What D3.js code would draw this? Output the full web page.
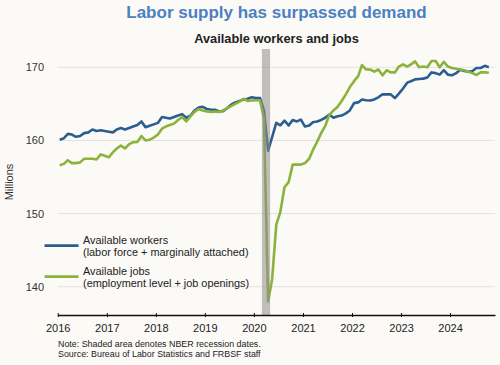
<!DOCTYPE html>
<html>
<head>
<meta charset="utf-8">
<script src="https://cdn.jsdelivr.net/npm/d3@7"></script>
<style>
  html, body { margin: 0; padding: 0; background: #fbfaf7; }
  svg { display: block; font-family: "Liberation Sans", Arial, sans-serif; }
</style>
</head>
<body>
<svg id="chart" width="500" height="365"></svg>
<script>
// ---- Data (monthly, Jan 2016 – Oct 2024, millions) ----
const startMonth = "2016-01";
const workers = [
  160.1,160.3,160.9,160.8,160.5,160.6,161.0,161.1,161.5,161.3,161.4,161.3,
  161.2,161.1,161.5,161.7,161.5,161.7,161.9,162.1,162.6,161.8,162.0,162.2,
  162.4,163.2,163.1,163.0,163.2,163.4,163.6,163.1,163.4,164.1,164.5,164.6,
  164.3,164.2,164.2,164.0,164.0,164.4,164.9,165.2,165.4,165.6,165.7,165.9,
  165.8,165.8,164.1,158.6,160.45,162.4,162.05,162.7,162.05,162.8,162.6,162.85,
  161.9,162.05,162.5,162.6,162.8,163.1,163.55,163.1,163.3,163.4,163.7,164.1,
  165.1,165.2,165.6,165.5,165.45,165.6,165.9,166.3,166.3,166.3,165.8,166.4,
  167.1,167.9,168.1,168.35,168.4,168.45,168.6,169.3,169.2,169.0,169.6,169.0,
  168.9,169.2,169.65,169.5,169.4,169.5,169.9,169.9,170.2,170.0
];
const jobs = [
  156.6,156.8,157.3,156.9,156.9,157.0,157.5,157.5,157.5,157.4,158.1,157.9,
  157.7,158.4,158.9,159.3,158.9,159.5,159.75,159.8,160.6,160.0,160.1,160.4,
  160.8,161.6,161.9,162.1,162.3,162.8,163.2,162.6,163.3,163.9,164.3,164.1,
  163.95,163.9,163.95,163.9,164.1,164.4,164.7,165.0,165.3,165.7,165.4,165.45,
  165.5,165.5,163.0,138.0,141.0,148.5,150.2,153.6,154.3,156.7,156.7,156.7,
  156.9,157.5,158.7,159.8,161.0,162.0,163.5,164.1,164.6,165.4,166.3,167.3,
  168.1,168.8,170.3,169.7,169.7,169.4,169.7,168.9,169.6,169.3,169.3,170.1,
  170.4,170.1,170.4,170.8,170.0,170.1,170.0,170.85,170.85,170.0,170.75,170.1,
  169.9,169.8,169.7,169.6,169.4,169.2,168.95,169.3,169.3,169.25
];
const yTicks = [140, 150, 160, 170];
const xTickYears = [2016, 2017, 2018, 2019, 2020, 2021, 2022, 2023, 2024];
const recession = ["2020-03-01", "2020-05-01"];
const seriesNames = ["Available workers", "Available jobs"];
const seriesSubs = ["(labor force + marginally attached)", "(employment level + job openings)"];

// ---- Setup ----
const svg = d3.select("#chart");
const parseMonth = d3.utcParse("%Y-%m");
const parseDay = d3.utcParse("%Y-%m-%d");
const start = parseMonth(startMonth);
// points placed mid-month
const dates = workers.map((_, i) => d3.utcDay.offset(d3.utcMonth.offset(start, i), 15));

const x = d3.scaleUtc()
  .domain([parseDay("2016-01-01"), parseDay("2024-12-01")])
  .range([57.7, 495]);
const y = d3.scaleLinear().domain([136.14, 172.5]).range([315, 49]);

const blue = "#2b5e8f", green = "#8bb33c";

// Titles
svg.append("text").attr("x", 276.5).attr("y", 17.5).attr("text-anchor", "middle")
  .attr("font-size", 17).attr("font-weight", "bold").attr("fill", "#4b80c2")
  .text("Labor supply has surpassed demand");
svg.append("text").attr("x", 276.5).attr("y", 42.5).attr("text-anchor", "middle")
  .attr("font-size", 12.8).attr("font-weight", "bold").attr("fill", "#222")
  .text("Available workers and jobs");

// Gridlines
svg.append("g").selectAll("line").data(yTicks).join("line")
  .attr("x1", 57.7).attr("x2", 495)
  .attr("y1", d => y(d)).attr("y2", d => y(d))
  .attr("stroke", "#e3e2df").attr("stroke-width", 1);

// Y axis labels
svg.append("g").selectAll("text").data(yTicks).join("text")
  .attr("x", 44).attr("y", d => y(d) + 4).attr("text-anchor", "end")
  .attr("font-size", 11).attr("fill", "#333").text(d => d);
svg.append("text").attr("transform", "translate(13,182) rotate(-90)")
  .attr("text-anchor", "middle").attr("font-size", 11).attr("fill", "#333").text("Millions");

// Lines
const line = d3.line().x((d, i) => x(dates[i])).y(d => y(d));
svg.append("path").datum(workers).attr("d", line).attr("fill", "none")
  .attr("stroke", blue).attr("stroke-width", 2.6).attr("stroke-linejoin", "round");
svg.append("path").datum(jobs).attr("d", line).attr("fill", "none")
  .attr("stroke", green).attr("stroke-width", 2.6).attr("stroke-linejoin", "round");

// Recession shade (drawn over the lines, semi-transparent)
svg.append("rect")
  .attr("x", x(parseDay(recession[0])))
  .attr("width", x(parseDay(recession[1])) - x(parseDay(recession[0])))
  .attr("y", 49).attr("height", 315 - 49)
  .attr("fill", "#8f8c88").attr("opacity", 0.55);

// X axis
const xAxis = d3.axisBottom(x)
  .tickValues(xTickYears.map(yr => new Date(Date.UTC(yr, 0, 1))))
  .tickFormat(d3.utcFormat("%Y"))
  .tickSize(4).tickSizeOuter(0);
const gx = svg.append("g").attr("transform", "translate(0,315)").call(xAxis);
gx.select(".domain").attr("stroke", "#111").attr("stroke-width", 1.6);
gx.selectAll(".tick line").attr("stroke", "#111").attr("y1", -2).attr("y2", 2);
gx.selectAll(".tick text").attr("font-size", 11).attr("fill", "#222")
  .attr("font-family", "Liberation Sans, Arial, sans-serif").attr("dy", 0).attr("y", 17);

// Legend
const legend = svg.append("g");
const legColors = [blue, green];
const legY = [245.7, 276.7];
seriesNames.forEach((name, i) => {
  legend.append("line").attr("x1", 44.5).attr("x2", 78.5)
    .attr("y1", legY[i]).attr("y2", legY[i])
    .attr("stroke", legColors[i]).attr("stroke-width", 2.8);
  legend.append("text").attr("x", 83).attr("y", legY[i] - 1.6)
    .attr("font-size", 10.9).attr("fill", "#222").text(name);
  legend.append("text").attr("x", 83).attr("y", legY[i] + 10.2)
    .attr("font-size", 10.9).attr("fill", "#222").text(seriesSubs[i]);
});

// Footnotes
svg.append("text").attr("x", 58).attr("y", 347).attr("font-size", 8.9).attr("fill", "#222")
  .text("Note: Shaded area denotes NBER recession dates.");
svg.append("text").attr("x", 58).attr("y", 356.5).attr("font-size", 8.9).attr("fill", "#222")
  .text("Source: Bureau of Labor Statistics and FRBSF staff");
</script>
</body>
</html>
